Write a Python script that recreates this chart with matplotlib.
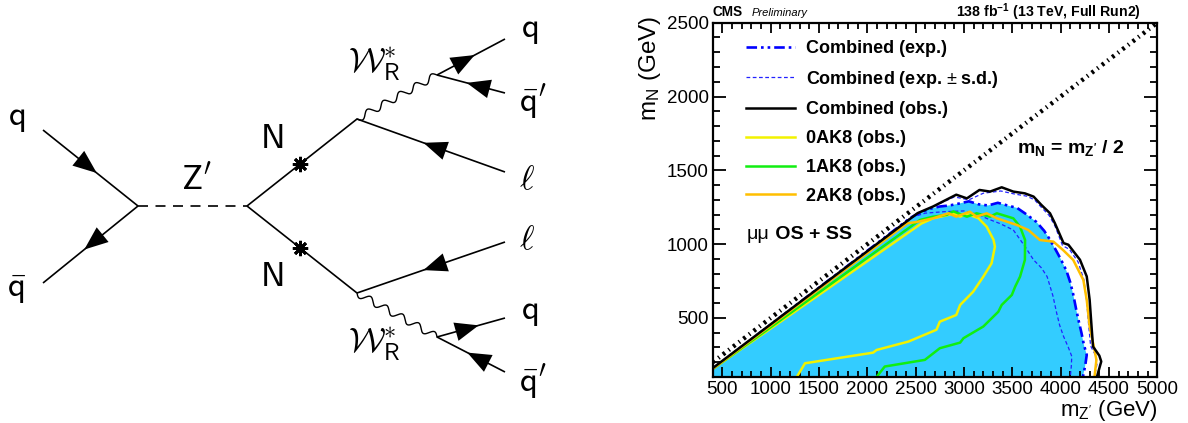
import numpy as np
import matplotlib
matplotlib.use("Agg")
import matplotlib.pyplot as plt
from matplotlib.ticker import MultipleLocator

plt.rcParams['font.family'] = ['Liberation Sans', 'DejaVu Sans']
plt.rcParams['mathtext.fontset'] = 'custom'
plt.rcParams['mathtext.rm'] = 'Liberation Sans'
plt.rcParams['mathtext.it'] = 'Liberation Sans:italic'
plt.rcParams['mathtext.bf'] = 'Liberation Sans:bold'

# ------------------------------------------------------------------ data
x_range = [400, 5000]
y_range = [100, 2500]
x_ticks = [500, 1000, 1500, 2000, 2500, 3000, 3500, 4000, 4500, 5000]
y_ticks = [500, 1000, 1500, 2000, 2500]

# m_N = m_Z'/2 kinematic line
diag_mz = [400, 5000]
diag_mn = [200, 2500]

# Combined expected (boundary of filled region)
exp_mz = [400, 2450, 2550, 2650, 2750, 2850, 2950, 3050, 3150, 3250, 3350, 3450, 3550,
          3650, 3750, 3830, 3890, 3950, 4000, 4060, 4100, 4130, 4160, 4190, 4215, 4240,
          4270, 4255, 4230]
exp_mn = [155, 1180, 1215, 1240, 1255, 1262, 1275, 1290, 1270, 1262, 1280, 1262, 1245,
          1200, 1150, 1090, 1030, 960, 900, 820, 740, 660, 560, 470, 400, 320,
          250, 180, 100]

# Combined expected -1 s.d.
exp_lo_mz = [400, 2450, 2600, 2800, 3000, 3150, 3250, 3370, 3510, 3630, 3720, 3800, 3860,
             3920, 3960, 3990, 4030, 4080, 4115, 4110, 4100]
exp_lo_mn = [155, 1180, 1210, 1220, 1225, 1200, 1170, 1140, 1096, 985, 893, 840, 780,
             650, 530, 450, 375, 300, 240, 170, 100]

# Combined expected +1 s.d.
exp_hi_mz = [400, 2500, 2700, 2900, 3050, 3200, 3380, 3520, 3650, 3730, 3800, 3880, 3940,
             4020, 4090, 4180, 4240, 4270, 4290, 4310, 4355, 4375, 4350]
exp_hi_mn = [158, 1200, 1260, 1320, 1300, 1345, 1360, 1340, 1325, 1300, 1250, 1195, 1125,
             990, 965, 880, 760, 610, 450, 310, 255, 185, 100]

# Combined observed
obs_mz = [400, 2520, 2680, 2920, 3030, 3160, 3270, 3390, 3510, 3630, 3720, 3800, 3890,
          3940, 4030, 4080, 4200, 4270, 4300, 4320, 4335, 4400, 4420, 4375]
obs_mn = [160, 1210, 1255, 1335, 1310, 1367, 1356, 1385, 1356, 1344, 1322, 1266, 1209,
          1142, 1007, 996, 894, 781, 623, 440, 306, 245, 205, 100]

# 0AK8 observed
ak0_mz = [1270, 1355, 2060, 2095, 2425, 2715, 2750, 2920, 2960, 3095, 3200, 3285, 3320,
          3305, 3235, 3150, 3030, 2960, 2890, 2820, 2680, 2560, 400]
ak0_mn = [100, 193, 265, 283, 340, 420, 475, 520, 588, 678, 780, 870, 983,
          1030, 1118, 1175, 1205, 1186, 1209, 1195, 1175, 1140, 155]

# 1AK8 observed
ak1_mz = [2095, 2180, 2595, 2750, 2960, 2995, 3200, 3355, 3390, 3495, 3530, 3580, 3630,
          3632, 3580, 3510, 3340, 3270, 3130, 3030, 2890, 2820, 2680, 2545, 400]
ak1_mn = [100, 171, 216, 295, 333, 363, 442, 542, 588, 656, 713, 780, 893,
          1028, 1118, 1175, 1209, 1186, 1209, 1186, 1222, 1198, 1186, 1164, 155]

# 2AK8 observed
ak2_mz = [400, 2410, 2510, 2680, 2840, 2920, 3060, 3130, 3235, 3340, 3440, 3545, 3665,
          3785, 3925, 4025, 4130, 4235, 4270, 4300, 4350, 4370, 4350]
ak2_mn = [155, 1141, 1150, 1175, 1209, 1186, 1220, 1186, 1209, 1175, 1153, 1130, 1096,
          1028, 1017, 960, 893, 757, 622, 442, 284, 216, 100]

legend_labels = ["Combined (exp.)", r"Combined (exp. $\pm$ s.d.)", "Combined (obs.)",
                 "0AK8 (obs.)", "1AK8 (obs.)", "2AK8 (obs.)"]

# ------------------------------------------------------------------ figure
W, H = 1188, 423
fig = plt.figure(figsize=(W / 100, H / 100), dpi=100)

# ===================== Feynman diagram (pixel coordinates) ==============
axd = fig.add_axes([0, 0, 600 / W, 1])
axd.set_xlim(0, 600)
axd.set_ylim(H, 0)
axd.axis('off')

LW = 1.2
v_in = (138, 206)
v_out = (247, 206)
v_up = (357, 119)
v_dn = (357, 293)
w_up = (437, 75)
w_dn = (437, 337)
q_in = (43, 130)
qb_in = (43, 283)
l_up = (505, 172)
l_dn = (505, 242)
q_up = (505, 39)
qp_up = (505, 93)
q_dn = (505, 318)
qp_dn = (505, 372)


def seg(a, b, **kw):
    axd.plot([a[0], b[0]], [a[1], b[1]], color='k', lw=LW, solid_capstyle='butt', **kw)


def arrow(a, b, frac=0.5):
    a = np.array(a, float)
    b = np.array(b, float)
    d = (b - a) / np.linalg.norm(b - a)
    c = a + (b - a) * frac
    tip = c + d * 8
    tail = c - d * 8
    axd.annotate('', xy=tip, xytext=tail,
                 arrowprops=dict(arrowstyle='-|>,head_length=1.0,head_width=0.4',
                                 mutation_scale=17, color='k', lw=0,
                                 shrinkA=0, shrinkB=0))


def wavy(a, b, n=5, amp=3.5):
    a = np.array(a, float)
    b = np.array(b, float)
    L = np.linalg.norm(b - a)
    d = (b - a) / L
    nrm = np.array([-d[1], d[0]])
    t = np.linspace(0, 1, 400)
    off = amp * np.sin(2 * np.pi * n * t)
    pts = a[None, :] + np.outer(t, b - a) + np.outer(off, nrm)
    axd.plot(pts[:, 0], pts[:, 1], color='k', lw=1.0)


seg(q_in, v_in)
arrow(q_in, v_in, 0.5)
seg(v_in, qb_in)
arrow(v_in, qb_in, 0.5)
axd.plot([v_in[0], v_out[0]], [v_in[1], v_out[1]], color='k', lw=LW,
         dashes=(6, 4.5))
seg(v_out, v_up)
seg(v_out, v_dn)
for p in (v_up, v_dn):
    m = (v_out[0] + (p[0] - v_out[0]) * 0.48, v_out[1] + (p[1] - v_out[1]) * 0.48)
    axd.plot(m[0], m[1], marker=(8, 2, 0), ms=11, color='k', mew=2.0)
    axd.plot(m[0], m[1], marker='o', ms=5, color='k')
seg(v_up, l_up)
arrow(l_up, v_up, 0.5)
seg(v_dn, l_dn)
arrow(l_dn, v_dn, 0.5)
wavy(v_up, w_up)
wavy(v_dn, w_dn)
seg(w_up, q_up)
arrow(w_up, q_up, 0.45)
seg(w_up, qp_up)
arrow(qp_up, w_up, 0.45)
seg(w_dn, q_dn)
arrow(w_dn, q_dn, 0.5)
seg(w_dn, qp_dn)
arrow(qp_dn, w_dn, 0.45)

FS_D = 25
tk = dict(fontsize=FS_D, ha='center', va='center', math_fontfamily='cm')
axd.text(17, 118, r'$\mathsf{q}$', **tk)
axd.text(17, 290, r'$\bar{\mathsf{q}}$', **tk)
axd.text(197, 180, r"$\mathsf{Z}'$", **tk)
axd.text(272, 138, r'$\mathsf{N}$', **tk)
axd.text(272, 277, r'$\mathsf{N}$', **tk)
axd.text(374, 64, r'$\mathcal{W}^{*}_{\mathsf{R}}$', **tk)
axd.text(374, 344, r'$\mathcal{W}^{*}_{\mathsf{R}}$', **tk)
axd.text(530, 30, r'$\mathsf{q}$', **tk)
axd.text(533, 102, r"$\bar{\mathsf{q}}'$", **tk)
axd.text(527, 180, r'$\ell$', **tk)
axd.text(527, 240, r'$\ell$', **tk)
axd.text(530, 312, r'$\mathsf{q}$', **tk)
axd.text(533, 382, r"$\bar{\mathsf{q}}'$", **tk)

# ===================== exclusion plot ===================================
x0, x1, ytop, ybot = 712.7, 1157.3, 22.7, 377.0
ax = fig.add_axes([x0 / W, (H - ybot) / H, (x1 - x0) / W, (ybot - ytop) / H])
ax.set_xlim(*x_range)
ax.set_ylim(*y_range)

fill_x = list(exp_mz) + [x_range[0]]
fill_y = list(exp_mn) + [y_range[0]]
ax.fill(fill_x, fill_y, color='#33ccff', lw=0, zorder=1)

h_lo, = ax.plot(exp_lo_mz, exp_lo_mn, color='#2222ff', lw=0.9, dashes=(3, 2), zorder=3)
h_hi, = ax.plot(exp_hi_mz, exp_hi_mn, color='#2222ff', lw=0.9, dashes=(3, 2), zorder=3)
h_exp, = ax.plot(exp_mz, exp_mn, color='#0000ff', lw=1.9,
                 dashes=(4, 1.5, 1, 1.5, 1, 1.5), zorder=4)
h0, = ax.plot(ak0_mz, ak0_mn, color='#f2f200', lw=1.8, zorder=5)
h1, = ax.plot(ak1_mz, ak1_mn, color='#11ee11', lw=1.8, zorder=5)
h2, = ax.plot(ak2_mz, ak2_mn, color='#ffbf00', lw=1.8, zorder=5)
h_obs, = ax.plot(obs_mz, obs_mn, color='k', lw=1.8, zorder=6)
ax.plot(diag_mz, diag_mn, color='k', lw=3.2, dashes=(0.6, 1.0, 0.3, 1.0), zorder=7)

for s in ax.spines.values():
    s.set_linewidth(1.6)
    s.set_zorder(10)
ax.set_xticks(x_ticks)
ax.set_yticks(y_ticks)
ax.xaxis.set_minor_locator(MultipleLocator(100))
ax.yaxis.set_minor_locator(MultipleLocator(100))
ax.tick_params(which='both', direction='in', top=True, right=True, width=1.3,
               labelsize=13.5, colors='k')
ax.tick_params(axis='x', which='major', length=7.5, pad=3)
ax.tick_params(axis='x', which='minor', length=4.5)
ax.tick_params(axis='y', which='major', length=9.5, pad=3)
ax.tick_params(axis='y', which='minor', length=5)

fig.text(650 / W, 1 - 16 / H, r'$\mathregular{m_{N}}$ (GeV)', rotation=90,
         ha='center', va='top', fontsize=17.5)
fig.text(x1 / W, 1 - 416 / H, r"$\mathregular{m_{Z'}}$ (GeV)", ha='right',
         va='baseline', fontsize=16)

fig.text(x0 / W, 1 - 12 / H, 'CMS', fontsize=9.8, weight='bold', ha='left', va='center')
fig.text(752 / W, 1 - 12.5 / H, 'Preliminary', fontsize=8, style='italic', ha='left',
         va='center')
fig.text(1141 / W, 1 - 12 / H, r'138 fb$^{\mathbf{-1}}$ (13 TeV, Full Run2)',
         fontsize=10.2, weight='bold', ha='right', va='center')

fig.text(1017 / W, 1 - 148 / H, r"$\mathbf{m_{N}}$ = $\mathbf{m_{Z'}}$ / 2",
         fontsize=14, weight='bold', ha='left', va='center')

t1 = fig.text(747 / W, 1 - 243 / H, 'μμ', fontsize=14, ha='left', va='bottom')
ax.annotate(' OS + SS', xy=(1, 0), xycoords=t1, fontsize=14, weight='bold',
            ha='left', va='bottom')

handles = [h_exp, h_hi, h_obs, h0, h1, h2]
leg = ax.legend(handles, legend_labels, loc='upper left',
                bbox_to_anchor=((746 - x0) / (x1 - x0), 1 - (40 - ytop) / (ybot - ytop)),
                frameon=False, prop=dict(weight='bold', size=13), handlelength=2.7,
                handletextpad=0.6, labelspacing=0.65, borderaxespad=0, borderpad=0)

fig.savefig('out.png', dpi=100)
